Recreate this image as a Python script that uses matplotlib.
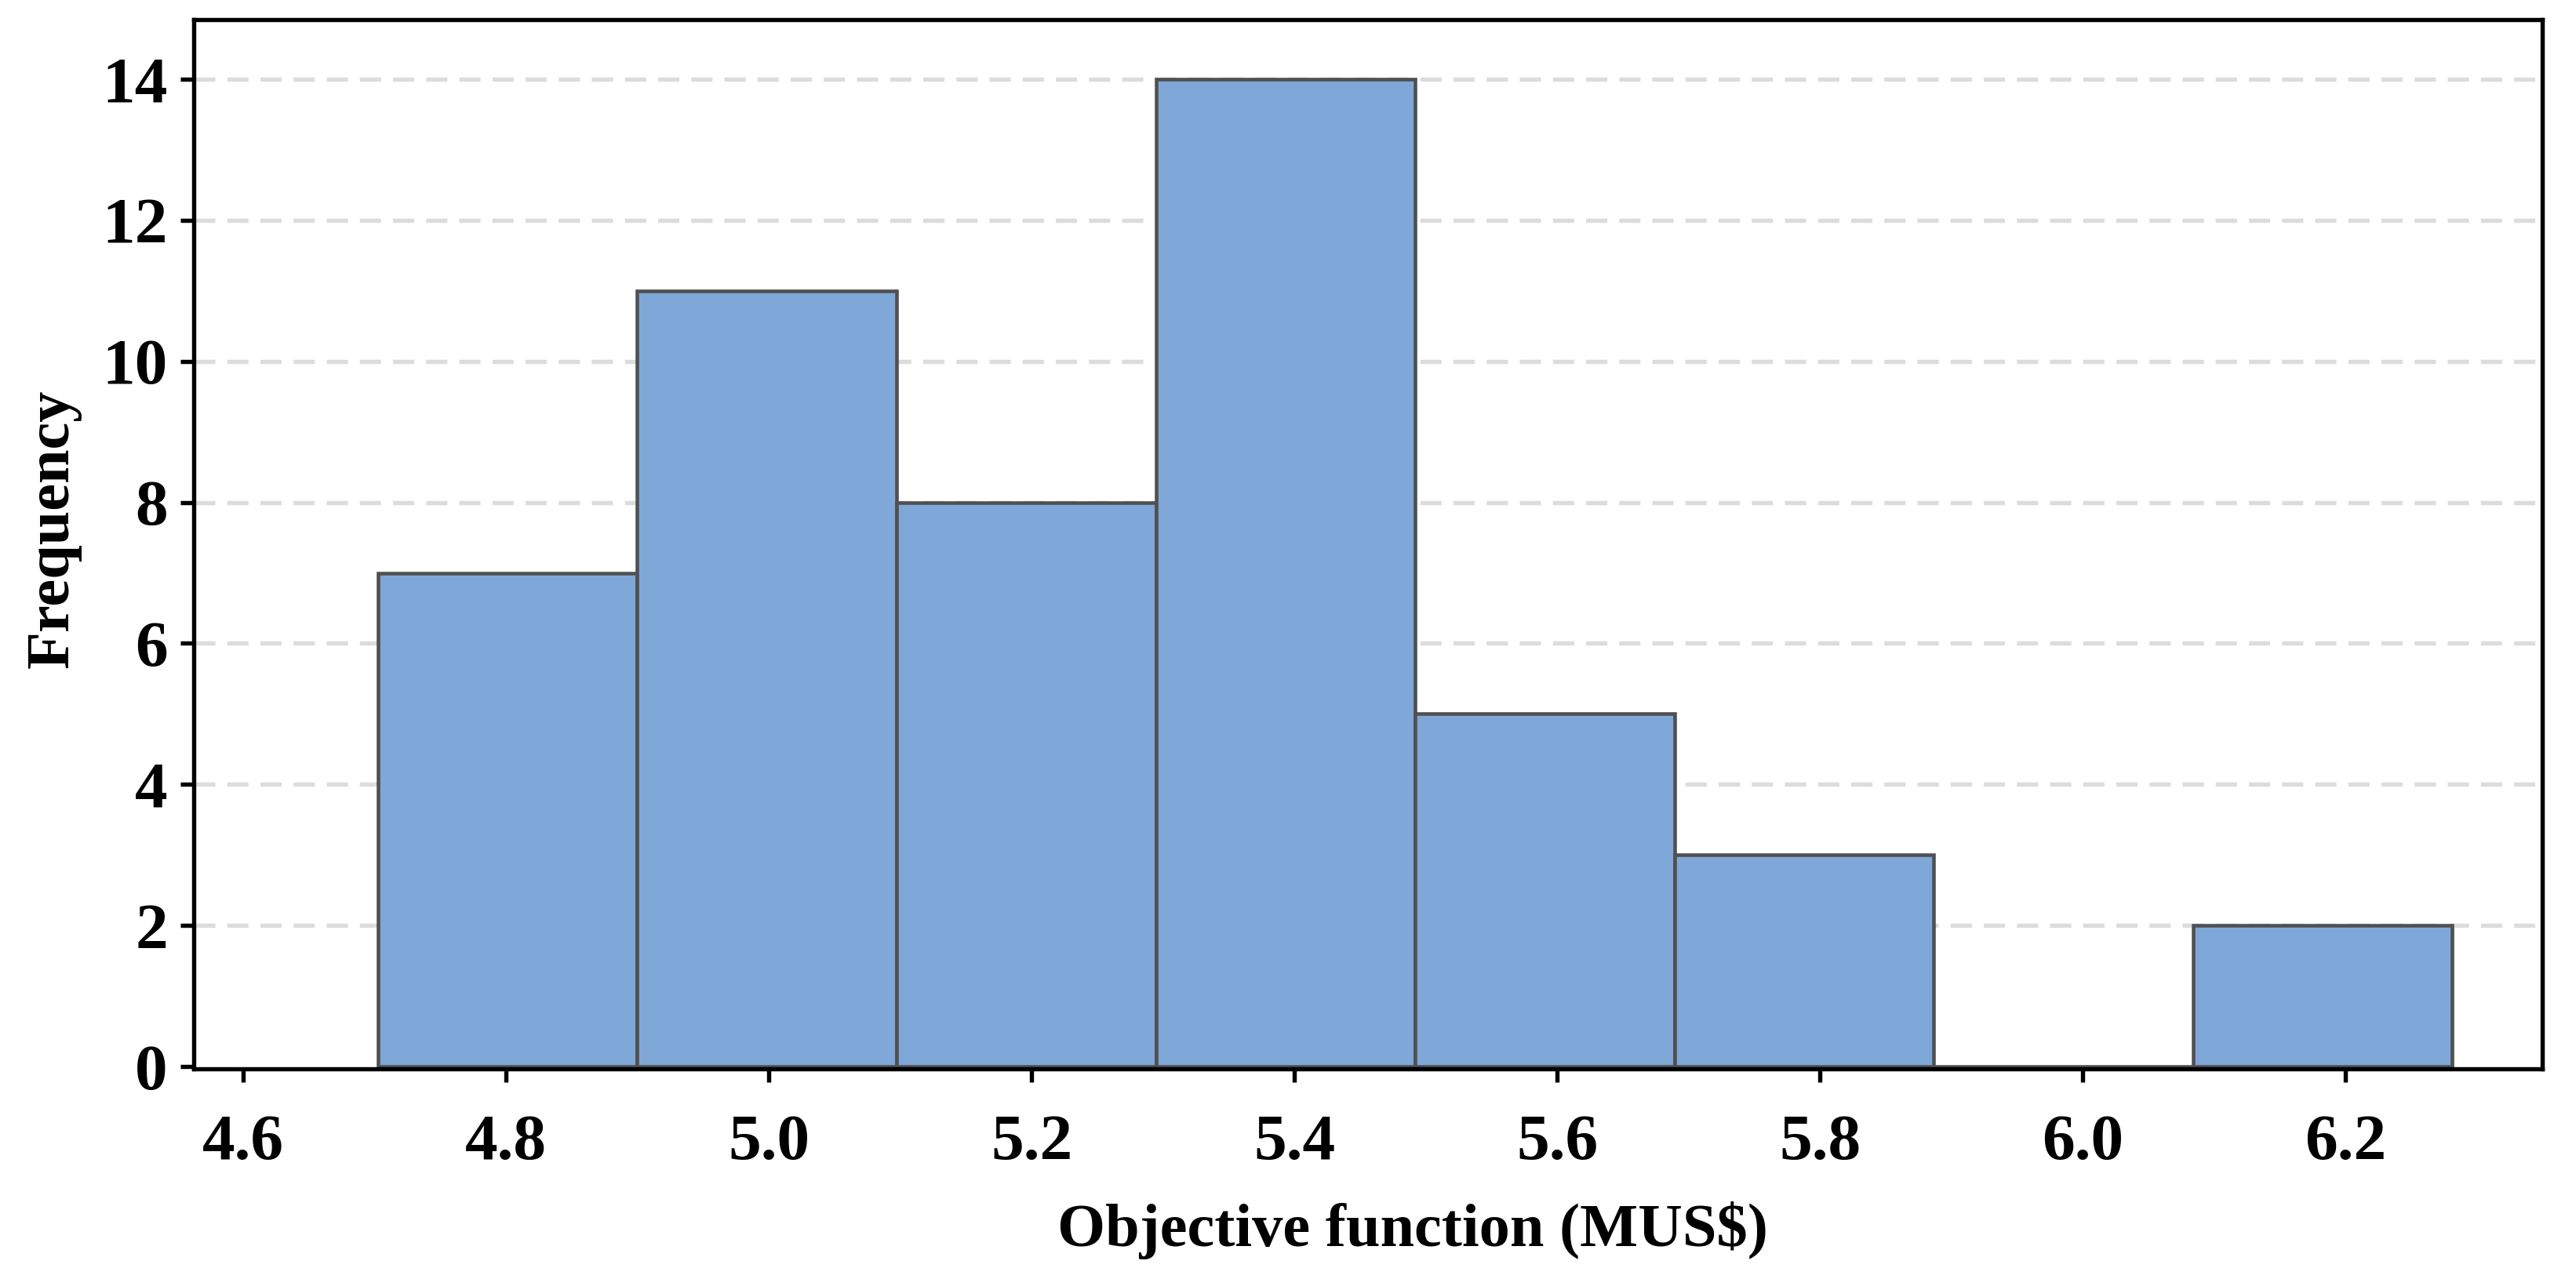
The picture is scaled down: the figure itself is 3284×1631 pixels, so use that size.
import matplotlib
matplotlib.use("Agg")
import matplotlib.pyplot as plt
import numpy as np

bin_edges = [4.7025, 4.8999, 5.0972, 5.2946, 5.4919, 5.6893, 5.8866, 6.0840, 6.2813]
counts = [7, 11, 8, 14, 5, 3, 0, 2]
x_ticks = [4.6, 4.8, 5.0, 5.2, 5.4, 5.6, 5.8, 6.0, 6.2]
y_ticks = [0, 2, 4, 6, 8, 10, 12, 14]
xlabel = "Objective function (MUS$)"
ylabel = "Frequency"

plt.rcParams['font.family'] = ['Liberation Serif', 'DejaVu Serif']
plt.rcParams['font.weight'] = 'bold'

fig = plt.figure(figsize=(3284/300, 1631/300), dpi=300)
ax = fig.add_axes([0.0753, 0.1643, 0.987-0.0753, 0.9846-0.1643])

lefts = np.array(bin_edges[:-1])
widths = np.diff(bin_edges)
ax.bar(lefts, counts, width=widths, align='edge', color='#7FA7D8',
       edgecolor='#505050', linewidth=1.1, zorder=3)

ax.set_xlim(4.5625, 6.35)
ax.set_ylim(-0.03, 14.84)
ax.set_xticks(x_ticks)
ax.set_xticklabels([f"{v:.1f}" for v in x_ticks])
ax.set_yticks(y_ticks)
ax.set_yticklabels([str(v) for v in y_ticks])

for y in y_ticks[1:]:
    ax.axhline(y, color='#DCDCDC', linewidth=1.3, linestyle=(0, (5, 2.8)), zorder=1)

for s in ax.spines.values():
    s.set_linewidth(1.3)
    s.set_color('black')
    s.set_zorder(4)

ax.tick_params(axis='both', direction='out', width=1.3, length=4, labelsize=20, pad=4)
ax.tick_params(axis='x', pad=10)
for lab in ax.get_xticklabels() + ax.get_yticklabels():
    lab.set_fontweight('bold')

ax.set_xlabel(xlabel, fontsize=18.8, fontweight='bold')
ax.set_ylabel(ylabel, fontsize=18.8, fontweight='bold')
ax.xaxis.set_label_coords(0.519, -0.126)
ax.yaxis.set_label_coords(-0.048, 0.515)

fig.savefig("out.png", dpi=300)
